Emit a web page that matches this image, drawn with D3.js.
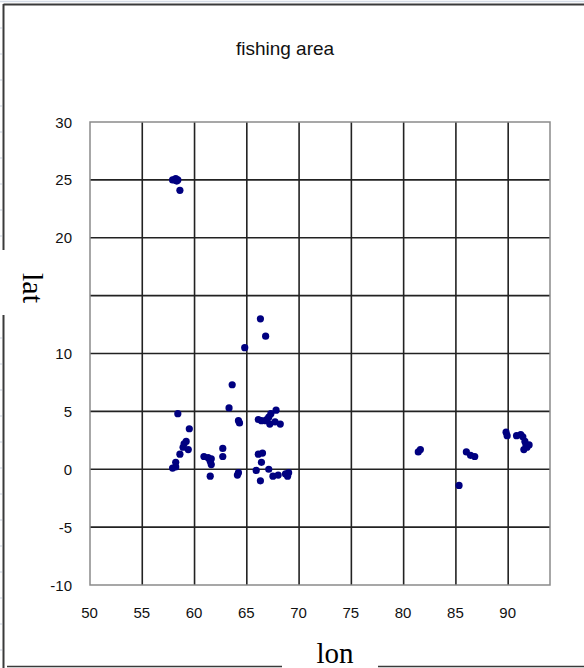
<!DOCTYPE html>
<html><head><meta charset="utf-8">
<script src="https://cdn.jsdelivr.net/npm/d3@7"></script>
<style>html,body{margin:0;padding:0;background:#fff;overflow:hidden}</style>
</head><body>
<svg id="chart" width="584" height="668"></svg>
<script>
const title = "fishing area";
const xLabel = "lon";
const yLabel = "lat";
const xTicks = [50, 55, 60, 65, 70, 75, 80, 85, 90];
const yGrid = [-10, -5, 0, 5, 10, 15, 20, 25, 30];
const yTickLabels = [-10, -5, 0, 5, 10, 20, 25, 30];
const lon = [57.9, 58.1, 58.3, 58.4, 58.2, 58.6,
  66.3, 66.8, 64.8, 63.6, 63.3, 58.4, 64.2, 64.3,
  66.1, 66.4, 66.8, 67.1, 67.3, 67.8, 67.2, 67.7, 68.2, 66.9,
  59.5, 59.2, 59.0, 58.9, 59.4, 58.6, 58.2, 57.9, 58.2,
  60.9, 61.3, 61.6, 61.5, 61.6, 62.7, 62.7, 61.5, 64.1, 64.2,
  66.1, 66.5, 66.4, 65.9, 67.1, 66.3, 67.5, 68.0, 68.7, 68.9, 69.0,
  81.4, 81.6, 85.3, 86.0, 86.4, 86.8, 89.8, 89.9, 90.8, 91.2, 91.4, 91.6, 91.7, 91.5, 92.0, 91.8];
const lat = [25.0, 25.0, 24.9, 25.0, 25.1, 24.1,
  13.0, 11.5, 10.5, 7.3, 5.3, 4.8, 4.2, 4.0,
  4.3, 4.2, 4.2, 4.5, 4.8, 5.1, 3.9, 4.1, 3.9, 4.3,
  3.5, 2.4, 2.2, 1.9, 1.7, 1.3, 0.6, 0.1, 0.2,
  1.1, 1.0, 0.9, 0.7, 0.4, 1.8, 1.1, -0.6, -0.5, -0.3,
  1.3, 1.4, 0.6, -0.1, 0.0, -1.0, -0.6, -0.5, -0.4, -0.6, -0.3,
  1.5, 1.7, -1.4, 1.5, 1.2, 1.1, 3.2, 2.9, 2.9, 3.0, 2.8, 2.4, 2.1, 1.7, 2.1, 1.9];

const svg = d3.select("#chart");
const x = d3.scaleLinear().domain([50, 94]).range([90, 550]);
const y = d3.scaleLinear().domain([-10, 30]).range([585, 122]);
const sans = "'Liberation Sans', Arial, sans-serif";
const serif = "'Liberation Serif', 'Times New Roman', serif";

// faint spreadsheet cell lines peeking around the chart
svg.append("line").attr("x1", 0).attr("x2", 584).attr("y1", 1.5).attr("y2", 1.5)
  .attr("stroke", "#d4dbe6").attr("stroke-width", 1.5);
[28, 54, 80, 106, 132, 158, 184, 210, 236, 338, 364, 390, 416, 442, 468, 494, 520, 546, 572, 598, 624, 650].forEach(v => {
  svg.append("line").attr("x1", 0).attr("x2", 2).attr("y1", v).attr("y2", v).attr("stroke", "#c9d2e0");
});

// chart outer border
svg.append("line").attr("x1", 3.5).attr("x2", 584).attr("y1", 4.5).attr("y2", 4.5)
  .attr("stroke", "#3a3a3a").attr("stroke-width", 2);
svg.append("line").attr("x1", 3.5).attr("x2", 3.5).attr("y1", 4).attr("y2", 250)
  .attr("stroke", "#3a3a3a").attr("stroke-width", 2);
svg.append("line").attr("x1", 3.5).attr("x2", 3.5).attr("y1", 315).attr("y2", 668)
  .attr("stroke", "#3a3a3a").attr("stroke-width", 2);
svg.append("line").attr("x1", 7).attr("x2", 282).attr("y1", 666.5).attr("y2", 666.5)
  .attr("stroke", "#3a3a3a").attr("stroke-width", 1.5);
svg.append("line").attr("x1", 378).attr("x2", 584).attr("y1", 666.5).attr("y2", 666.5)
  .attr("stroke", "#3a3a3a").attr("stroke-width", 1.5);

// title
svg.append("text").attr("x", 285).attr("y", 55).attr("text-anchor", "middle")
  .attr("font-family", sans).attr("font-size", 19).attr("fill", "#111").text(title);

// grid lines
svg.append("g").selectAll("line.v").data(xTicks.slice(1)).join("line")
  .attr("x1", d => x(d)).attr("x2", d => x(d)).attr("y1", y(30)).attr("y2", y(-10))
  .attr("stroke", "#222").attr("stroke-width", 1.6);
svg.append("g").selectAll("line.h").data(yGrid.slice(1, -1)).join("line")
  .attr("x1", x(50)).attr("x2", x(94)).attr("y1", d => y(d)).attr("y2", d => y(d))
  .attr("stroke", "#222").attr("stroke-width", 1.6);

// plot area border
svg.append("rect").attr("x", x(50)).attr("y", y(30))
  .attr("width", x(94) - x(50)).attr("height", y(-10) - y(30))
  .attr("fill", "none").attr("stroke", "#8a8a8a").attr("stroke-width", 1.5);

// tick labels
svg.append("g").selectAll("text").data(yTickLabels).join("text")
  .attr("x", 72).attr("y", d => y(d) + 5.5).attr("text-anchor", "end")
  .attr("font-family", sans).attr("font-size", 15).attr("fill", "#111").text(d => d);
svg.append("g").selectAll("text").data(xTicks).join("text")
  .attr("x", d => x(d) - 0.5).attr("y", 618).attr("text-anchor", "middle")
  .attr("font-family", sans).attr("font-size", 15).attr("fill", "#111").text(d => d);

// points
svg.append("g").selectAll("circle").data(lon.map((d, i) => [d, lat[i]])).join("circle")
  .attr("cx", d => x(d[0])).attr("cy", d => y(d[1])).attr("r", 3.6)
  .attr("fill", "#000080");

// axis titles
svg.append("text").attr("x", 335).attr("y", 663).attr("text-anchor", "middle")
  .attr("font-family", serif).attr("font-size", 29).attr("fill", "#000").text(xLabel);
svg.append("text").attr("transform", "translate(23,288) rotate(90)").attr("text-anchor", "middle")
  .attr("font-family", serif).attr("font-size", 30).attr("fill", "#000").text(yLabel);
</script>
</body></html>
